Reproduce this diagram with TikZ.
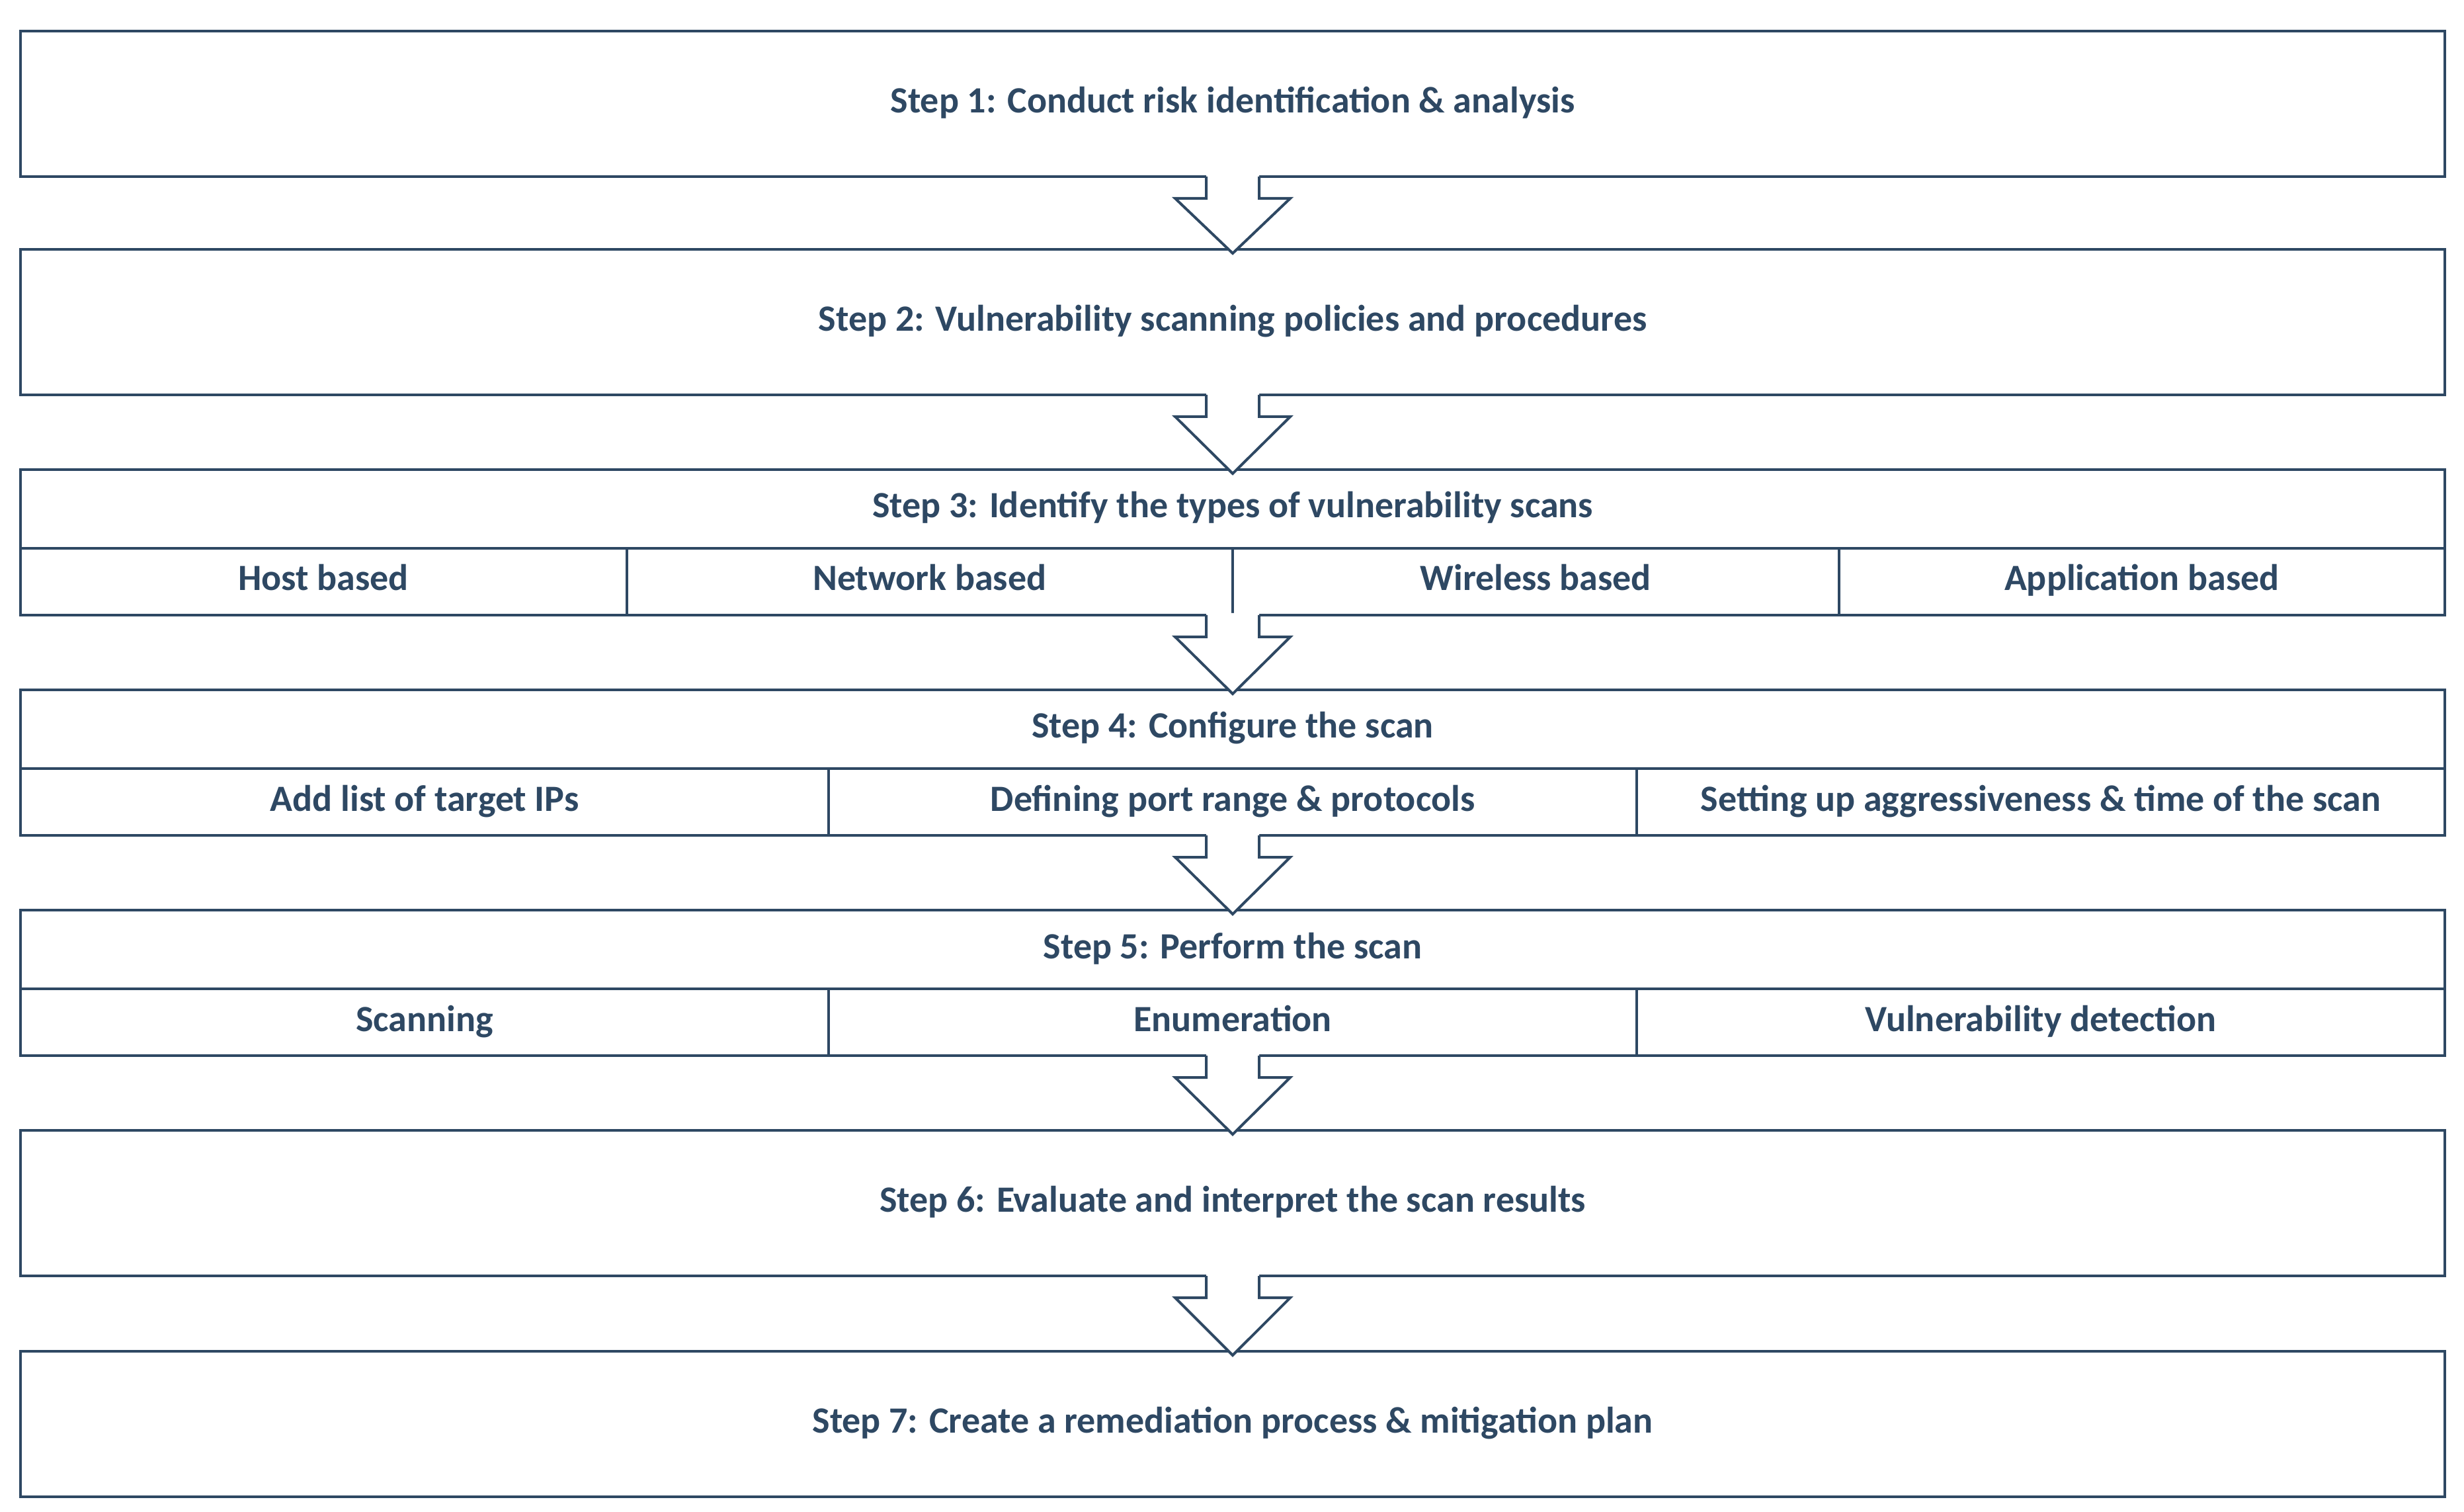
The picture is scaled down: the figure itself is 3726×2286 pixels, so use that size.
\documentclass[tikz,border=0pt]{standalone}
\usepackage{fontspec}
\setmainfont{Carlito}
\usetikzlibrary{calc}
\definecolor{ink}{RGB}{46,72,99}
\newcommand\flowarrow[2]{%
  \coordinate (fa) at (#1.south);
  \coordinate (fb) at (#2.north);
  \fill[white] ($(fa)+(-40,-3)$) -- ($(fa)+(-40,33)$) -- ($(fa)+(-87,33)$) -- ($(fb)+(0,6)$) -- ($(fa)+(87,33)$) -- ($(fa)+(40,33)$) -- ($(fa)+(40,-3)$) -- cycle;
  \draw[arrowline] ($(fa)+(-40,0)$) -- ($(fa)+(-40,33)$) -- ($(fa)+(-87,33)$) -- ($(fb)+(0,6)$) -- ($(fa)+(87,33)$) -- ($(fa)+(40,33)$) -- ($(fa)+(40,0)$);
}
\begin{document}
\begin{tikzpicture}[x=0.2pt,y=-0.2pt,
  txt/.style={font=\fontsize{11.2}{13}\selectfont\bfseries, text=ink, text height=7.6pt, text depth=2.2pt},
  base/.style={draw=ink, line width=0.8pt, rectangle, inner sep=0pt, outer sep=0pt, anchor=north west, txt},
  stepbox/.style={base, minimum width=733.2pt, minimum height=44pt},
  headbox/.style={base, minimum width=733.2pt, minimum height=23.8pt},
  cellfour/.style={base, minimum width=183.3pt, minimum height=20.2pt},
  cellthree/.style={base, minimum width=244.4pt, minimum height=20.2pt},
  arrowline/.style={draw=ink, line width=0.8pt, line join=miter}]
\useasboundingbox (0,0) rectangle (3726,2286);
\fill[white] (0,0) rectangle (3726,2286);

\node[stepbox] (s1) at (31,47) {Step 1: Conduct risk identification \& analysis};
\node[stepbox] (s2) at (31,377) {Step 2: Vulnerability scanning policies and procedures};

\node[stepbox] (s3) at (31,710) {};
\node[headbox] (s3h) at (s3.north west) {Step 3: Identify the types of vulnerability scans};
\node[cellfour] (s3a) at (31,829) {Host based};
\node[cellfour] (s3b) at (s3a.north east) {Network based};
\node[cellfour] (s3c) at (s3b.north east) {Wireless based};
\node[cellfour] (s3d) at (s3c.north east) {Application based};

\node[stepbox] (s4) at (31,1043) {};
\node[headbox] (s4h) at (s4.north west) {Step 4: Configure the scan};
\node[cellthree] (s4a) at (31,1162) {Add list of target IPs};
\node[cellthree] (s4b) at (s4a.north east) {Defining port range \& protocols};
\node[cellthree] (s4c) at (s4b.north east) {Setting up aggressiveness \& time of the scan};

\node[stepbox] (s5) at (31,1376) {};
\node[headbox] (s5h) at (s5.north west) {Step 5: Perform the scan};
\node[cellthree] (s5a) at (31,1495) {Scanning};
\node[cellthree] (s5b) at (s5a.north east) {Enumeration};
\node[cellthree] (s5c) at (s5b.north east) {Vulnerability detection};

\node[stepbox] (s6) at (31,1709) {Step 6: Evaluate and interpret the scan results};
\node[stepbox] (s7) at (31,2043) {Step 7: Create a remediation process \& mitigation plan};

\flowarrow{s1}{s2}
\flowarrow{s2}{s3}
\flowarrow{s3}{s4}
\flowarrow{s4}{s5}
\flowarrow{s5}{s6}
\flowarrow{s6}{s7}
\end{tikzpicture}
\end{document}
